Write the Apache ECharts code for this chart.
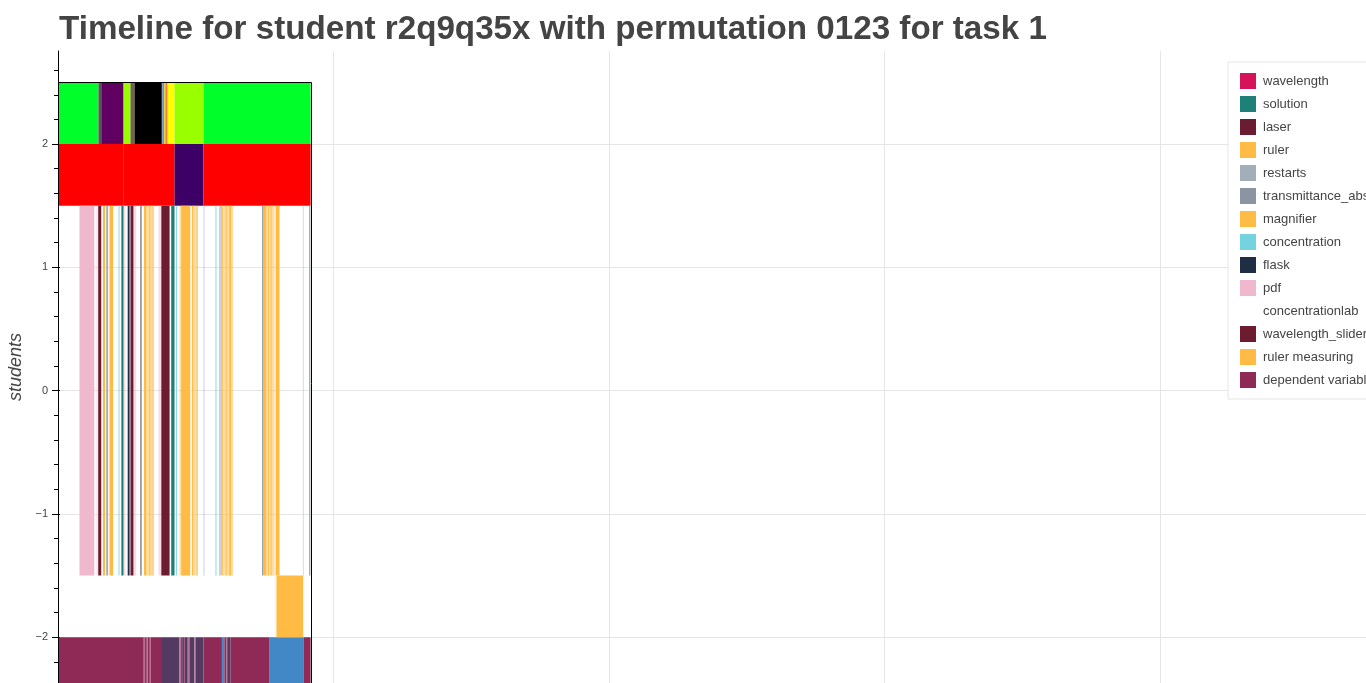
<!DOCTYPE html>
<html>
<head>
<meta charset="utf-8">
<script src="https://cdn.jsdelivr.net/npm/echarts@6/dist/echarts.min.js"></script>
<style>
  html, body { margin: 0; padding: 0; background: #fff; }
  #chart { width: 1366px; height: 683px; }
</style>
</head>
<body>
<div id="chart"></div>
<script>
// ---------------- data ----------------
const titleText = 'Timeline for student r2q9q35x with permutation 0123 for task 1';
const yAxisName = 'students';

const legendNames = ['wavelength', 'solution', 'laser', 'ruler', 'restarts', 'transmittance_absorbance',
  'magnifier', 'concentration', 'flask', 'pdf', 'concentrationlab', 'wavelength_slider',
  'ruler measuring', 'dependent variable'];

const yTickValues = [-2, -1, 0, 1, 2];
const yMinorTickValues = [-2.2, -1.8, -1.6, -1.4, -1.2, -0.8, -0.6, -0.4, -0.2,
  0.2, 0.4, 0.6, 0.8, 1.2, 1.4, 1.6, 1.8, 2.2, 2.4, 2.6];
const yRange = [-2.371, 2.755];
const xRange = [0, 4748];
const xInterval = 1000;

// y extent of each timeline row
const rowExtents = {
  phases: [2.0, 2.5],
  sessions: [1.5, 2.0],
  actions: [-1.5, 1.5],
  measuring: [-2.0, -1.5],
  variables: [-2.5, -2.0]
};

// [start, end, label]
const phaseRow = [
  [0, 147, 'lime'], [147, 157, 'slate'], [157, 238, 'plum'], [238, 263, 'chartreuse'],
  [263, 278, 'olive'], [278, 377, 'black'], [377, 382, 'periwinkle'], [382, 384, 'plum'],
  [384, 387, 'chartreuse'], [387, 391, 'amber'], [391, 398, 'coral'], [398, 423, 'yellow'],
  [423, 528, 'chartreuse'], [528, 917, 'lime']
];
const sessionRow = [
  [0, 239, 'red'], [239, 423, 'red'], [423, 528, 'indigo'], [528, 917, 'red']
];
const faintActionStripes = [
  [140, 144, 'pdf'], [240, 245, 'pdf'], [276, 284, 'pdf'], [316, 348, 'magnifier'],
  [365, 374, 'pdf'], [441, 447, 'magnifier'], [490, 503, 'magnifier'], [528, 532, 'restarts'],
  [598, 635, 'magnifier'], [756, 786, 'magnifier'], [889, 892, 'restarts']
];
const actionStripes = [
  [78, 132, 'pdf'], [146, 157, 'laser'], [163, 171, 'ruler'], [175, 182, 'restarts'],
  [187, 200, 'magnifier'], [220, 223, 'concentration'], [230, 238, 'solution'], [253, 260, 'flask'],
  [263, 274, 'wavelength_slider'], [298, 304, 'transmittance_absorbance'], [312, 320, 'ruler'],
  [332, 335, 'magnifier'], [344, 346, 'magnifier'], [375, 405, 'laser'], [411, 423, 'solution'],
  [429, 432, 'concentration'], [447, 480, 'magnifier'], [486, 490, 'ruler'], [503, 507, 'magnifier'],
  [572, 575, 'concentration'], [586, 590, 'restarts'], [592, 598, 'ruler'], [609, 612, 'magnifier'],
  [622, 628, 'magnifier'], [741, 746, 'transmittance_absorbance'], [747, 756, 'ruler'],
  [763, 766, 'magnifier'], [772, 775, 'magnifier'], [790, 804, 'ruler'],
  [912, 916, 'transmittance_absorbance']
];
const faintMeasuringRow = [[790, 794, 'ruler measuring']];
const measuringRow = [[794, 890, 'ruler measuring']];
const variableRow = [
  [0, 311, 'dependent variable'], [311, 316, 'divider'], [316, 322, 'dependent variable'],
  [322, 326, 'divider'], [326, 333, 'dependent variable'], [333, 336, 'divider'],
  [336, 374, 'dependent variable'], [374, 441, 'variable_b'], [441, 447, 'divider'],
  [447, 453, 'variable_b'], [453, 459, 'dependent variable'], [459, 471, 'variable_b'],
  [471, 477, 'divider'], [477, 495, 'variable_b'], [495, 499, 'divider'], [499, 528, 'variable_b'],
  [528, 595, 'dependent variable'], [595, 604, 'variable_c'], [604, 611, 'dependent variable'],
  [611, 614, 'divider'], [614, 617, 'dependent variable'], [617, 626, 'variable_b'],
  [626, 768, 'dependent variable'], [768, 891, 'variable_c'], [891, 917, 'dependent variable']
];

// ---------------- styles ----------------
const palette = {
  'wavelength': '#d6135a', 'solution': '#1f807a', 'laser': '#6b1c30', 'ruler': '#ffbb44',
  'restarts': '#a3aebb', 'transmittance_absorbance': '#8a94a3', 'magnifier': '#ffbb44',
  'concentration': '#74d3de', 'flask': '#1e2e45', 'pdf': '#f0b8cc', 'concentrationlab': '#ffffff',
  'wavelength_slider': '#6b1c30', 'ruler measuring': '#ffbb44', 'dependent variable': '#8e2a55',
  'lime': '#00ff2a', 'slate': '#5a505a', 'plum': '#600060', 'chartreuse': '#99ff00',
  'olive': '#6e6448', 'black': '#000000', 'periwinkle': '#8aa0d0', 'amber': '#ffa000',
  'coral': '#ff7744', 'yellow': '#ffff00', 'red': '#ff0000', 'indigo': '#3d0066',
  'variable_b': '#523a63', 'variable_c': '#4287c6', 'divider': '#b46f92'
};
const FONT = '"Liberation Sans", Arial, Helvetica, sans-serif';

// ---------------- build ----------------
const segments = [];
function addRow(row, list, faint) {
  list.forEach(s => segments.push({ start: s[0], end: s[1], label: s[2], row: row, faint: faint }));
}
addRow('phases', phaseRow, false);
addRow('sessions', sessionRow, false);
addRow('actions', faintActionStripes, true);
addRow('actions', actionStripes, false);
addRow('measuring', faintMeasuringRow, true);
addRow('measuring', measuringRow, false);
addRow('variables', variableRow, false);

function toItem(s) {
  const ext = rowExtents[s.row];
  return { value: [s.start, s.end, ext[0], ext[1], s.faint ? 1 : 0], itemStyle: { color: palette[s.label] } };
}
function renderBar(params, api) {
  const p1 = api.coord([api.value(0), api.value(3)]);
  const p2 = api.coord([api.value(1), api.value(2)]);
  const faint = api.value(4) === 1;
  return {
    type: 'rect',
    shape: { x: p1[0], y: p1[1], width: p2[0] - p1[0], height: p2[1] - p1[1] },
    style: { fill: api.visual('color'), opacity: faint ? 0.5 : 1 }
  };
}

const series = [];
// rows / labels that are not in the legend
series.push({
  type: 'custom', name: 'background rows', renderItem: renderBar, clip: true,
  encode: { x: [0, 1], y: [2, 3] },
  data: segments.filter(s => legendNames.indexOf(s.label) < 0).map(toItem)
});
legendNames.forEach(name => {
  series.push({
    type: 'custom', name: name, renderItem: renderBar, clip: true,
    itemStyle: { color: palette[name] },
    encode: { x: [0, 1], y: [2, 3] },
    data: segments.filter(s => s.label === name).map(toItem)
  });
});
// frame around the timeline
const frameStart = Math.min(...segments.map(s => s.start));
const frameEnd = Math.max(...segments.map(s => s.end));
const rowLows = Object.values(rowExtents).map(e => e[0]);
const rowHighs = Object.values(rowExtents).map(e => e[1]);
series.push({
  type: 'custom', name: 'frame', clip: true, z: 5,
  encode: { x: [0, 1], y: [2, 3] },
  data: [[frameStart, frameEnd, Math.min(...rowLows), Math.max(...rowHighs)]],
  renderItem: function (params, api) {
    const p1 = api.coord([api.value(0), api.value(3)]);
    const p2 = api.coord([api.value(1), api.value(2)]);
    return {
      type: 'rect',
      shape: { x: Math.round(p1[0]) + 0.5, y: Math.round(p1[1]) + 0.5, width: Math.round(p2[0] - p1[0]), height: Math.round(p2[1] - p1[1]) },
      style: { fill: 'none', stroke: '#000', lineWidth: 1 }
    };
  }
});

function fmt(v) { return v < 0 ? '\u2212' + Math.abs(v) : String(v); }

const option = {
  animation: false,
  backgroundColor: '#ffffff',
  title: {
    text: titleText, left: 59, top: 13, padding: 0,
    textStyle: { fontFamily: FONT, fontWeight: 'bold', fontSize: 33.2, color: '#444444' }
  },
  grid: { left: 58, right: 0, top: 51, bottom: 0, outerBoundsMode: 'none' },
  xAxis: {
    type: 'value', min: xRange[0], max: xRange[1], interval: xInterval,
    axisLine: { show: false }, axisTick: { show: false }, axisLabel: { show: false },
    splitLine: { show: true, lineStyle: { color: '#e5e5e5', width: 1 } }
  },
  yAxis: [
    {
      type: 'value', min: yRange[0], max: yRange[1], position: 'left',
      name: yAxisName, nameLocation: 'middle', nameGap: 26,
      nameTextStyle: { fontFamily: FONT, fontStyle: 'italic', fontSize: 18, color: '#444444' },
      axisLine: { show: true, onZero: false, lineStyle: { color: '#000', width: 1 } },
      axisTick: { show: true, customValues: yTickValues, length: 6, lineStyle: { color: '#000' } },
      axisLabel: { customValues: yTickValues, formatter: fmt, fontFamily: FONT, fontSize: 11, color: '#444444', margin: 10 },
      splitLine: { show: true, lineStyle: { color: '#e5e5e5', width: 1 } }
    },
    {
      type: 'value', min: yRange[0], max: yRange[1], position: 'left',
      axisLine: { show: false, onZero: false }, axisLabel: { show: false }, splitLine: { show: false },
      axisTick: { show: true, customValues: yMinorTickValues, length: 4, lineStyle: { color: '#000' } }
    },
    {
      type: 'value', min: yRange[0], max: yRange[1], position: 'left',
      axisLine: { show: false, onZero: false }, axisLabel: { show: false }, splitLine: { show: false },
      axisTick: { show: true, inside: true, customValues: yTickValues, length: 2, lineStyle: { color: '#000' } }
    }
  ],
  legend: {
    orient: 'vertical', left: 1228, top: 62, padding: [11, 12, 11, 12],
    itemGap: 7, itemWidth: 16, itemHeight: 16, icon: 'rect', selectedMode: false,
    backgroundColor: '#ffffff', borderColor: '#e5e5e5', borderWidth: 1,
    textStyle: { fontFamily: FONT, fontSize: 13, color: '#444444', padding: [0, 0, 0, 2] },
    data: legendNames.map(n => ({ name: n, itemStyle: { color: palette[n] } }))
  },
  series: series
};

const chart = echarts.init(document.getElementById('chart'), null, { renderer: 'canvas' });
chart.setOption(option);
</script>
</body>
</html>
